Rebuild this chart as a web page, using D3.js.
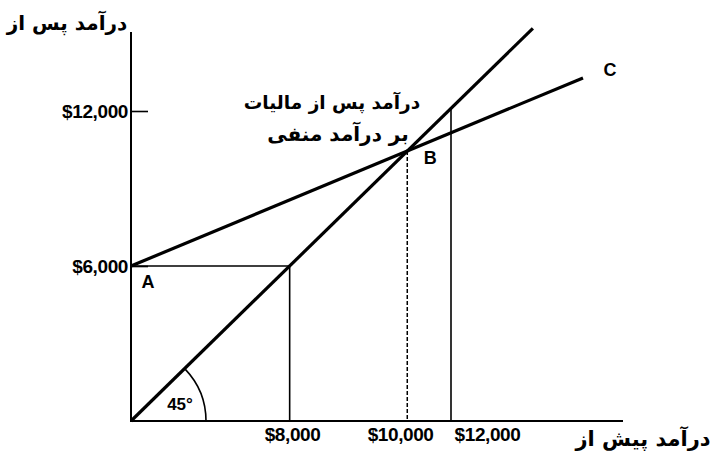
<!DOCTYPE html>
<html>
<head>
<meta charset="utf-8">
<script src="https://cdn.jsdelivr.net/npm/d3@7"></script>
<style>
  body { margin: 0; background: #fff; }
  .num { font-family: "Liberation Sans", Arial, sans-serif; font-weight: bold; }
  .fa { font-family: "DejaVu Sans", sans-serif; font-weight: bold; }
</style>
</head>
<body>
<svg id="chart" width="711" height="457"></svg>
<script>
// values (income in dollars)
const diagonal = [[0, 0], [15070, 15200]];          // 45 degree line
const lineC = [[0, 6000], [16950, 13280]];          // after-tax income with negative income tax
const guideA = { x: 5950, y: 6000 };
const breakEven = { x: 10360, y: 10450 };           // point B
const guide12 = { x: 12000, y: 12100 };

const yTickValues = [6000, 12000];
const yTickLabels = ["$6,000", "$12,000"];
const xTickAt = [6040, 10090, 13350];
const xTickLabels = ["$8,000", "$10,000", "$12,000"];

const xAxisEnd = 18450;
const yAxisEnd = 15060;

const svg = d3.select("#chart");

const x = d3.scaleLinear().domain([0, 12000]).range([131, 451]);
const y = d3.scaleLinear().domain([0, 12000]).range([421, 111]);

const line = d3.line().x(d => x(d[0])).y(d => y(d[1]));

// guide lines
svg.append("path")
    .attr("d", line([[0, guideA.y], [guideA.x, guideA.y], [guideA.x, 0]]))
    .attr("fill", "none").attr("stroke", "#000").attr("stroke-width", 1.6);

svg.append("path")
    .attr("d", line([[breakEven.x, breakEven.y], [breakEven.x, 0]]))
    .attr("fill", "none").attr("stroke", "#000").attr("stroke-width", 1.5)
    .attr("stroke-dasharray", "4,2");

svg.append("path")
    .attr("d", line([[guide12.x, guide12.y], [guide12.x, 0]]))
    .attr("fill", "none").attr("stroke", "#000").attr("stroke-width", 1.6);

// axes
const yAxis = d3.axisLeft(y)
    .tickValues(yTickValues)
    .tickFormat((d, i) => yTickLabels[i])
    .tickSizeInner(-17)
    .tickSizeOuter(0)
    .tickPadding(4);

const gy = svg.append("g")
    .attr("transform", `translate(${x(0)},0)`)
    .call(yAxis);
gy.select(".domain").remove();
gy.selectAll("line").attr("stroke-width", 1.6);
gy.selectAll("text").attr("class", "num").attr("font-size", 19)
    .attr("x", -3).attr("letter-spacing", -0.4);

svg.append("path")
    .attr("d", line([[0, yAxisEnd], [0, 0], [xAxisEnd, 0]]))
    .attr("fill", "none").attr("stroke", "#000").attr("stroke-width", 2);

const xAxis = d3.axisBottom(x)
    .tickValues(xTickAt)
    .tickFormat((d, i) => xTickLabels[i])
    .tickSize(0)
    .tickPadding(7);

const gx = svg.append("g")
    .attr("transform", `translate(0,${y(0)})`)
    .call(xAxis);
gx.select(".domain").remove();
gx.selectAll("text").attr("class", "num").attr("font-size", 19)
    .attr("letter-spacing", -0.4);

// main lines
svg.append("path")
    .attr("d", line(diagonal))
    .attr("fill", "none").attr("stroke", "#000").attr("stroke-width", 3.2);

svg.append("path")
    .attr("d", line(lineC))
    .attr("fill", "none").attr("stroke", "#000").attr("stroke-width", 3.2);

// 45 degree arc
const arc = d3.arc()
    .innerRadius(75).outerRadius(75)
    .startAngle(Math.PI / 2 - 0.76).endAngle(Math.PI / 2);
svg.append("path")
    .attr("d", arc())
    .attr("transform", `translate(${x(0)},${y(0)})`)
    .attr("fill", "none").attr("stroke", "#000").attr("stroke-width", 1.6);

svg.append("text").attr("class", "num")
    .attr("x", 180).attr("y", 410)
    .attr("text-anchor", "middle").attr("font-size", 17)
    .text("45°");

// point labels
svg.append("text").attr("class", "num")
    .attr("x", x(0) + 17).attr("y", y(guideA.y) + 22)
    .attr("text-anchor", "middle").attr("font-size", 18)
    .text("A");

svg.append("text").attr("class", "num")
    .attr("x", x(breakEven.x) + 23).attr("y", y(breakEven.y) + 13)
    .attr("text-anchor", "middle").attr("font-size", 18)
    .text("B");

svg.append("text").attr("class", "num")
    .attr("x", x(lineC[1][0]) + 27).attr("y", y(lineC[1][1]) - 2)
    .attr("text-anchor", "middle").attr("font-size", 18)
    .text("C");

// persian labels
svg.append("text").attr("class", "fa")
    .attr("x", 67).attr("y", 30)
    .attr("text-anchor", "middle").attr("font-size", 20)
    .text("درآمد پس از");

svg.append("text").attr("class", "fa")
    .attr("x", 643).attr("y", 446)
    .attr("text-anchor", "middle").attr("font-size", 21)
    .text("درآمد پیش از");

svg.append("text").attr("class", "fa")
    .attr("x", 332).attr("y", 109)
    .attr("text-anchor", "middle").attr("font-size", 18.5)
    .text("درآمد پس از مالیات");

svg.append("text").attr("class", "fa")
    .attr("x", 338).attr("y", 141)
    .attr("text-anchor", "middle").attr("font-size", 20)
    .text("بر درآمد منفی");
</script>
</body>
</html>
